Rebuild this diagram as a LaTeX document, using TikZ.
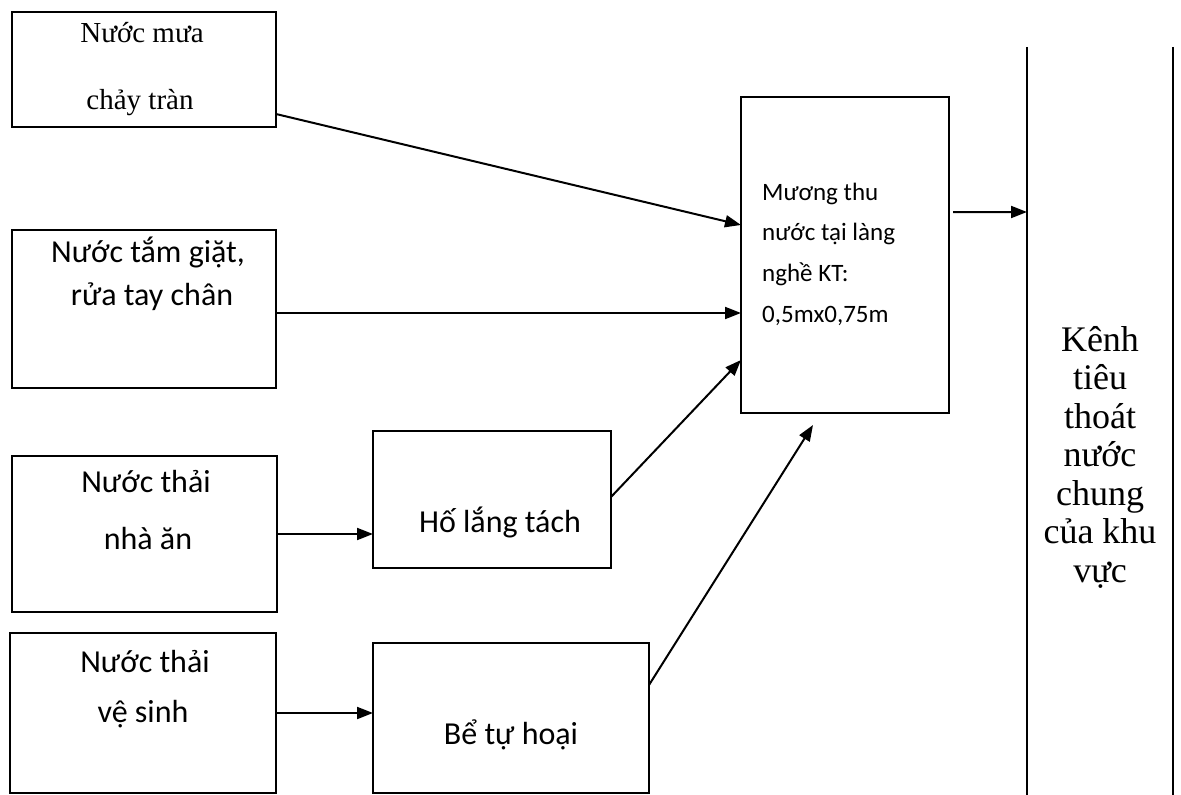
\documentclass[tikz,border=0pt]{standalone}
\usepackage{fontspec}
\setmainfont{Liberation Serif}
\newfontfamily\carl{Carlito}
\usetikzlibrary{arrows.meta,calc}
\begin{document}
\begin{tikzpicture}[x=1bp,y=-1bp,
  box/.style={draw,line width=2.4bp,inner sep=0,outer sep=0},
  arr/.style={line width=2bp,-{Triangle[length=16bp,width=12bp]}},
  kline/.style={line width=2.6bp},
  boxtxt/.style={font=\carl\fontsize{32bp}{36bp}\selectfont,inner sep=0,anchor=mid},
  mutxt/.style={font=\carl\fontsize{25bp}{30bp}\selectfont,inner sep=0,anchor=mid west},
  sertxt/.style={font=\fontsize{29bp}{32bp}\selectfont,inner sep=0,anchor=mid},
  kentxt/.style={font=\fontsize{36bp}{38.5bp}\selectfont,inner sep=0,align=center},
]
\useasboundingbox (0,0) rectangle (1181,795);
% boxes
\node[box,minimum width=264bp,minimum height=115bp] (b1) at (144,69.5) {};
\node[box,minimum width=264bp,minimum height=158bp] (b2) at (144,309) {};
\node[box,minimum width=265bp,minimum height=156bp] (b3) at (144.5,534) {};
\node[box,minimum width=266bp,minimum height=160bp] (b4) at (143,713) {};
\node[box,minimum width=238bp,minimum height=137bp] (ho) at (492,499.5) {};
\node[box,minimum width=276bp,minimum height=150bp] (be) at (511,718) {};
\node[box,minimum width=208bp,minimum height=316bp] (mu) at (845,255) {};
% texts
\node[sertxt] (t1a) at (142,40) {Nước mưa};
\node[sertxt] (t1b) at (140,107) {chảy tràn};
\node[boxtxt] (t2a) at (148,260) {Nước tắm giặt,};
\node[boxtxt] (t2b) at (152,303) {rửa tay chân};
\node[boxtxt] (t3a) at (146,490) {Nước thải};
\node[boxtxt] (t3b) at (148,547) {nhà ăn};
\node[boxtxt] (t4a) at (145,670) {Nước thải};
\node[boxtxt] (t4b) at (143,720) {vệ sinh};
\node[boxtxt] (tho) at (500,530) {Hố lắng tách};
\node[boxtxt] (tbe) at (511,742) {Bể tự hoại};
\node[mutxt] (tm1) at (762,198) {Mương thu};
\node[mutxt] (tm2) at (762,238) {nước tại làng};
\node[mutxt] (tm3) at (762,279) {nghề KT:};
\node[mutxt] (tm4) at (762,320) {0,5mx0,75m};
% canal
\draw[kline] (1027,47) -- (1027,795);
\draw[kline] (1173,47) -- (1173,795);
\coordinate (kl) at (1027,212);
\node[kentxt] (kenh) at (1100,457) {Kênh\\tiêu\\thoát\\nước\\chung\\của khu\\vực};
% arrows
\draw[arr] ([yshift=13bp]b1.south east) -- ([yshift=30bp]mu.west);
\draw[arr] ([yshift=-4bp]b2.east) -- ([yshift=-4bp]b2.east -| mu.west);
\draw[arr] ([yshift=2.5bp]ho.east) -- ([yshift=-105bp]mu.west);
\draw[arr] ([yshift=33bp]be.east) -- ([xshift=-32bp,yshift=-12bp]mu.south);
\draw[arr] ([xshift=4bp,yshift=43bp]mu.east) -- (kl);
\draw[arr] (b3.east) -- (b3.east -| ho.west);
\draw[arr] (b4.east) -- (b4.east -| be.west);
\end{tikzpicture}
\end{document}
